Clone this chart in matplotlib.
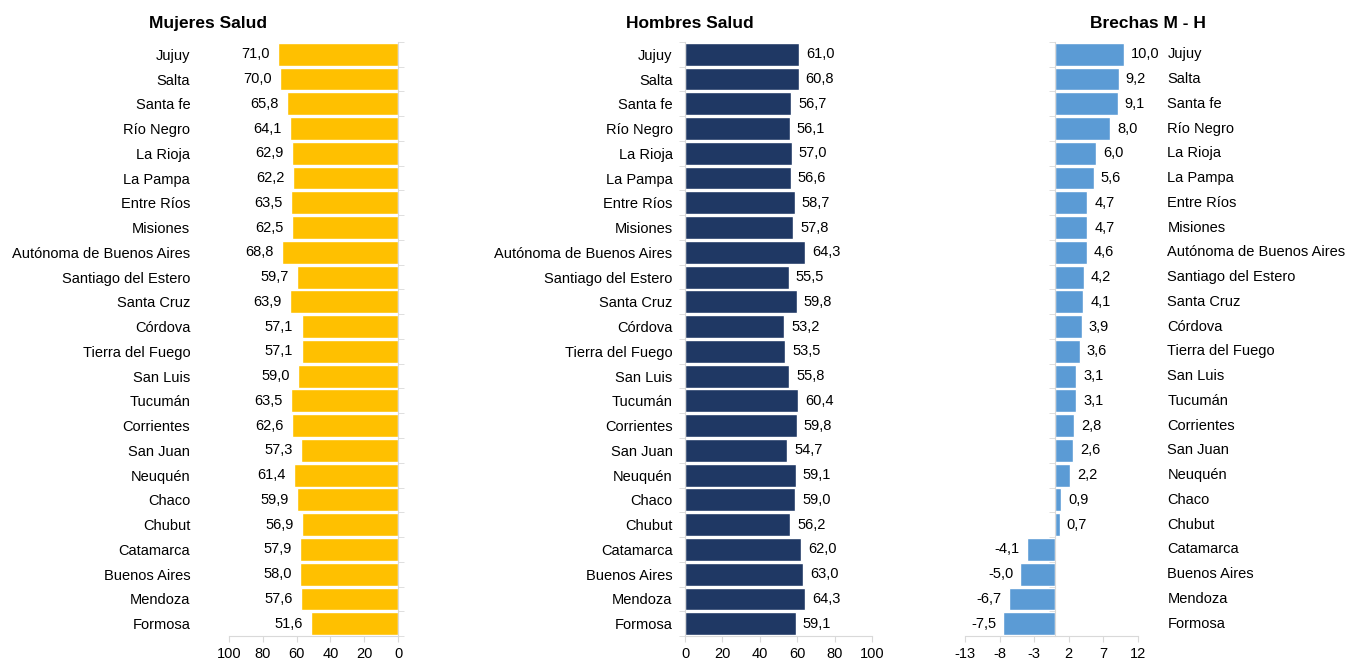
import numpy as np
import matplotlib
matplotlib.use("Agg")
import matplotlib.pyplot as plt
from matplotlib.transforms import blended_transform_factory

plt.rcParams['font.family'] = ['Liberation Sans', 'DejaVu Sans']
plt.rcParams['axes.unicode_minus'] = False

provincias = ['Jujuy', 'Salta', 'Santa fe', 'Río Negro', 'La Rioja', 'La Pampa',
              'Entre Ríos', 'Misiones', 'Autónoma de Buenos Aires', 'Santiago del Estero',
              'Santa Cruz', 'Córdova', 'Tierra del Fuego', 'San Luis', 'Tucumán',
              'Corrientes', 'San Juan', 'Neuquén', 'Chaco', 'Chubut', 'Catamarca',
              'Buenos Aires', 'Mendoza', 'Formosa']
mujeres = [71.0, 70.0, 65.8, 64.1, 62.9, 62.2, 63.5, 62.5, 68.8, 59.7, 63.9, 57.1,
           57.1, 59.0, 63.5, 62.6, 57.3, 61.4, 59.9, 56.9, 57.9, 58.0, 57.6, 51.6]
hombres = [61.0, 60.8, 56.7, 56.1, 57.0, 56.6, 58.7, 57.8, 64.3, 55.5, 59.8, 53.2,
           53.5, 55.8, 60.4, 59.8, 54.7, 59.1, 59.0, 56.2, 62.0, 63.0, 64.3, 59.1]
brechas = [10.0, 9.2, 9.1, 8.0, 6.0, 5.6, 4.7, 4.7, 4.6, 4.2, 4.1, 3.9, 3.6, 3.1,
           3.1, 2.8, 2.6, 2.2, 0.9, 0.7, -4.1, -5.0, -6.7, -7.5]
ticks_salud = [0, 20, 40, 60, 80, 100]
ticks_brecha = [-13, -8, -3, 2, 7, 12]

def fmt(v):
    return f"{v:.1f}".replace('.', ',')

gris = '#d9d9d9'
fs = 10.5
fs_tit = 12.5
y = np.arange(len(provincias))
bordes = np.arange(len(provincias) + 1) - 0.5

fig = plt.figure(figsize=(13.49, 6.61), dpi=100)
bottom, height = 0.0378, 0.8987
ax1 = fig.add_axes([0.1698, bottom, 0.1253, height])
ax2 = fig.add_axes([0.5078, bottom, 0.1386, height])
ax3 = fig.add_axes([0.7153, bottom, 0.1282, height])

def base(ax):
    for s in ax.spines.values():
        s.set_visible(False)
    ax.spines['bottom'].set_visible(True)
    ax.spines['bottom'].set_color(gris)
    ax.tick_params(axis='x', colors=gris, labelcolor='black', labelsize=fs,
                   length=4, direction='out', pad=4)
    ax.set_ylim(len(provincias) - 0.5, -0.5)
    ax.set_yticks(bordes, minor=True)
    ax.set_yticks(y)

# Mujeres
ax1.barh(y, mujeres, height=0.92, color='#ffc000', edgecolor='white', linewidth=1)
base(ax1)
ax1.set_xlim(100, 0)
ax1.set_xticks(ticks_salud)
ax1.spines['right'].set_visible(True)
ax1.spines['right'].set_color(gris)
ax1.set_yticklabels(provincias, fontsize=fs)
ax1.tick_params(axis='y', which='major', length=0, pad=28, left=True, right=False)
ax1.tick_params(axis='y', which='minor', left=False, right=True, length=4, color=gris)
for yi, v in zip(y, mujeres):
    ax1.annotate(fmt(v), (v, yi), xytext=(-6, 0), textcoords='offset points',
                 ha='right', va='center', fontsize=fs)
ax1.set_title('Mujeres Salud', fontsize=fs_tit, fontweight='bold', x=-0.124, pad=10)

# Hombres
ax2.barh(y, hombres, height=0.92, color='#1f3864', edgecolor='white', linewidth=1)
base(ax2)
ax2.set_xlim(0, 100)
ax2.set_xticks(ticks_salud)
ax2.spines['left'].set_visible(True)
ax2.spines['left'].set_color(gris)
ax2.set_yticklabels(provincias, fontsize=fs)
ax2.tick_params(axis='y', which='major', length=0, pad=9)
ax2.tick_params(axis='y', which='minor', length=4, color=gris)
for yi, v in zip(y, hombres):
    ax2.annotate(fmt(v), (v, yi), xytext=(5, 0), textcoords='offset points',
                 ha='left', va='center', fontsize=fs)
ax2.set_title('Hombres Salud', fontsize=fs_tit, fontweight='bold', x=0.027, pad=10)

# Brechas
ax3.barh(y, brechas, height=0.92, color='#5b9bd5', edgecolor='white', linewidth=1)
base(ax3)
ax3.set_xlim(-13, 12)
ax3.set_xticks(ticks_brecha)
ax3.spines['left'].set_visible(True)
ax3.spines['left'].set_position(('data', 0))
ax3.spines['left'].set_color(gris)
ax3.set_yticklabels([])
ax3.tick_params(axis='y', which='major', length=0)
ax3.tick_params(axis='y', which='minor', length=4, color=gris)
for yi, v in zip(y, brechas):
    if v >= 0:
        ax3.annotate(fmt(v), (v, yi), xytext=(5, 0), textcoords='offset points',
                     ha='left', va='center', fontsize=fs)
    else:
        ax3.annotate(fmt(v), (v, yi), xytext=(-5, 0), textcoords='offset points',
                     ha='right', va='center', fontsize=fs)
tr = blended_transform_factory(ax3.transAxes, ax3.transData)
for yi, nombre in zip(y, provincias):
    ax3.text(1.17, yi, nombre, transform=tr, ha='left', va='center', fontsize=fs)
ax3.set_title('Brechas M - H', fontsize=fs_tit, fontweight='bold', x=1.06, pad=10)

fig.savefig('out.png', dpi=100)
